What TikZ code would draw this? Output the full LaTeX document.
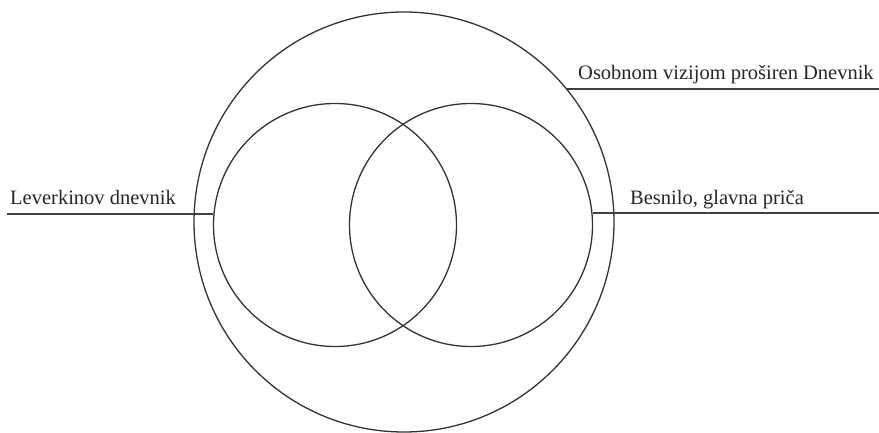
\documentclass[tikz,border=0pt]{standalone}
\usepackage{fontspec}
\setmainfont{Liberation Serif}
\begin{document}
\begin{tikzpicture}[x=1pt,y=-1pt,
  ring/.style={draw=black!80,line width=1.3pt,circle,inner sep=0pt},
  rule/.style={draw=black!75,line width=1.4pt},
  lbl/.style={anchor=base west,inner sep=0pt,font=\fontsize{20.5}{24}\selectfont,text=black!85}]
\useasboundingbox (0,0) rectangle (879,433);
\node[ring,minimum size=420pt] (big) at (404,222) {};
\node[ring,minimum size=243pt] (left) at (335,225) {};
\node[ring,minimum size=243pt] (right) at (471,225) {};
\coordinate (la) at (7,214);
\coordinate (lb) at (213,214);
\coordinate (ra) at (593,213);
\coordinate (rb) at (879,213);
\coordinate (ta) at (566,89);
\coordinate (tb) at (879,89);
\draw[rule] (la) -- (lb);
\draw[rule] (ra) -- (rb);
\draw[rule] (ta) -- (tb);
\node[lbl] (tl) at (10,205) {Leverkinov dnevnik};
\node[lbl] (tr) at (630,205) {Besnilo, glavna priča};
\node[lbl] (tt) at (578,80) {Osobnom vizijom proširen Dnevnik};
\end{tikzpicture}
\end{document}
